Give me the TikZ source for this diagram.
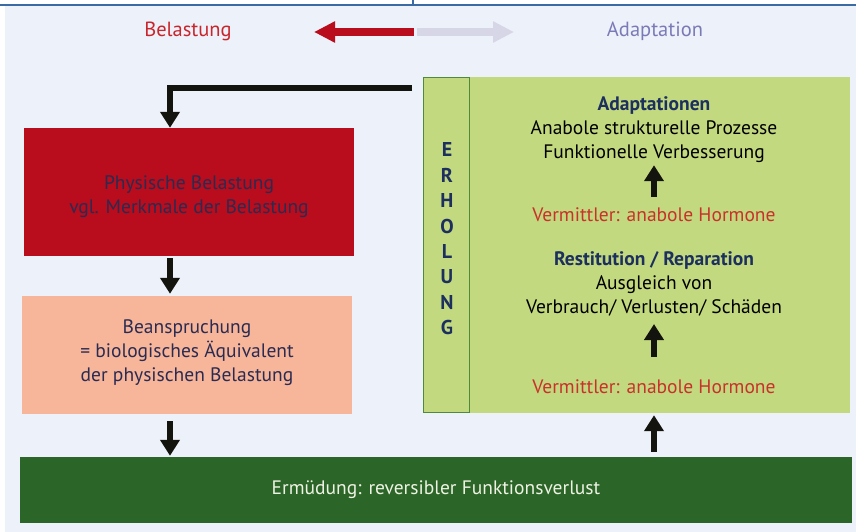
\documentclass[tikz,border=0pt]{standalone}
\usepackage{fontspec}
\setmainfont{PT Sans}
\usetikzlibrary{arrows.meta}

\definecolor{bgblue}{HTML}{EDF1F9}
\definecolor{rulebl}{HTML}{3B6BA5}
\definecolor{belred}{HTML}{C9252C}
\definecolor{boxred}{HTML}{B90C1C}
\definecolor{greyarr}{HTML}{D7D6E6}
\definecolor{adaplila}{HTML}{7B7AB8}
\definecolor{boxtext}{HTML}{2A2B52}
\definecolor{salmon}{HTML}{F7B69A}
\definecolor{lightgr}{HTML}{C3D97F}
\definecolor{bordgr}{HTML}{4F8A3C}
\definecolor{navy}{HTML}{1C2F5E}
\definecolor{vermred}{HTML}{C8322A}
\definecolor{darkgr}{HTML}{2B6527}
\definecolor{pale}{HTML}{EEF2E4}
\definecolor{arrblack}{HTML}{14140F}

\tikzset{
  box/.style={rectangle,inner sep=0pt,align=center,font=\fontsize{19.5}{24}\selectfont},
  txt/.style={inner sep=0pt,align=center,font=\fontsize{19.5}{24}\selectfont},
  flow/.style={draw=arrblack,line width=6pt,-{Triangle[length=16pt,width=19pt]}},
  bigarr/.style={line width=8pt,-{Triangle[length=21pt,width=20pt]}}
}

\begin{document}
\begin{tikzpicture}[x=1pt,y=-1pt]
            \useasboundingbox (0,0) rectangle (856,532);
            % Background and top rule
            \fill[bgblue] (5,6) rectangle (856,532);
            \draw[rulebl,line width=1.7pt] (0,5) -- (856,5);
            \draw[rulebl,line width=1.5pt] (413,0) -- (413,5);

            % Place the headings
            \node[txt,text=belred,font=\fontsize{20.5}{24}\selectfont] (belast) at (188,31) {Belastung};
            \node[txt,text=adaplila,font=\fontsize{20.5}{24}\selectfont] (adapt) at (655,31) {Adaptation};
            \coordinate (mid) at (413.5,32);
            \coordinate (lefttip) at (314,32);
            \coordinate (righttip) at (514,32);

            % Place the left column
            \node[box,fill=boxred,minimum width=330pt,minimum height=128pt] (phys) at (189,192) {};
            \node[txt,text=boxtext] (physlbl) at (189,197)
              {Physische Belastung\\vgl. Merkmale der Belastung};
            \node[box,fill=salmon,minimum width=330pt,minimum height=118pt] (bean) at (187,355) {};
            \node[txt,text=boxtext] (beanlbl) at (187,353)
              {Beanspruchung\\= biologisches Äquivalent\\der physischen Belastung};
            \node[box,fill=darkgr,text=pale,minimum width=832pt,minimum height=66pt] (ermued) at (436,490)
              {Ermüdung: reversibler Funktionsverlust};
            \coordinate (col) at (170,0);

            % Place the recovery panel
            \node[box,fill=lightgr,minimum width=380pt,minimum height=336pt] (panel) at (660,245) {};
            \node[box,fill=lightgr,draw=bordgr,line width=1.2pt,minimum width=46pt,minimum height=335pt] (erhol) at (446.5,245) {};
            \node[txt,text=navy,font=\fontsize{20}{25.4}\selectfont\bfseries] (letters) at (447,239)
              {E\\R\\H\\O\\L\\U\\N\\G};
            \node[txt] (adapts) at (654,130)
              {\textcolor{navy}{\bfseries Adaptationen}\\Anabole strukturelle Prozesse\\Funktionelle Verbesserung};
            \node[txt,text=vermred] (verm1) at (654,215) {Vermittler: anabole Hormone};
            \node[txt] (resti) at (654,283.5)
              {\textcolor{navy}{\bfseries Restitution / Reparation}\\Ausgleich von\\Verbrauch/ Verlusten/ Schäden};
            \node[txt,text=vermred] (verm2) at (654,387) {Vermittler: anabole Hormone};
            \coordinate (lstart) at (412,88.5);

            % The arrows!
            \draw[bigarr,boxred] (mid) -- (lefttip);
            \draw[bigarr,greyarr] ([xshift=3pt]mid) -- (righttip);
            \draw[flow] (lstart) -| (col |- phys.north);
            \draw[flow,shorten <=2pt,shorten >=2pt] (col |- phys.south) -- (col |- bean.north);
            \draw[flow,shorten <=7pt,shorten >=1pt] (col |- bean.south) -- (col |- ermued.north);
            \draw[flow,shorten <=5pt,shorten >=2pt] (ermued.north -| verm2) -- (verm2 |- panel.south);
            \draw[flow,shorten <=23pt,shorten >=8pt] (verm2) -- (resti);
            \draw[flow,shorten <=11pt,shorten >=2pt] (verm1) -- (adapts);
        \end{tikzpicture}
\end{document}
